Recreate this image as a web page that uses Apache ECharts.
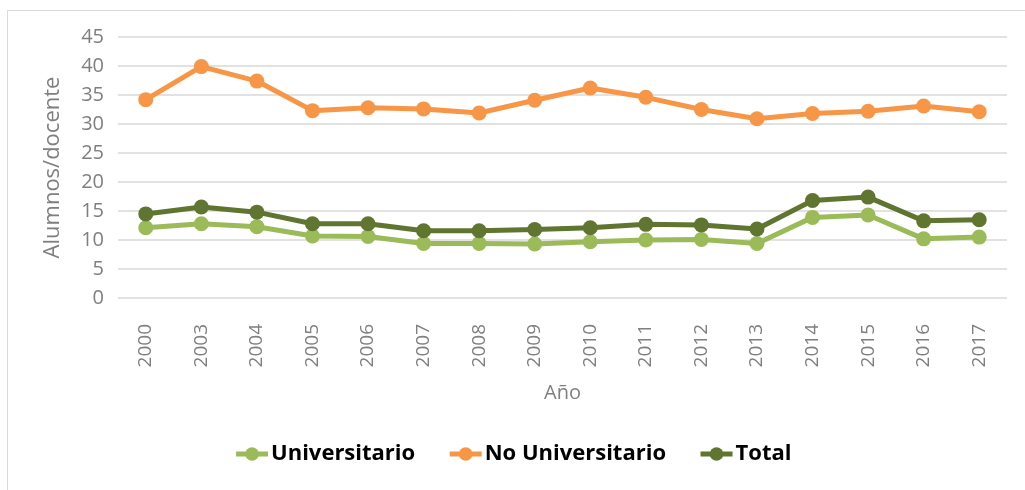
<!DOCTYPE html>
<html>
<head>
<meta charset="utf-8">
<script src="https://cdn.jsdelivr.net/npm/echarts@6/dist/echarts.min.js"></script>
<style>
  html, body { margin: 0; padding: 0; background: #fff; }
  #chart { width: 1025px; height: 490px; }
</style>
</head>
<body>
<div id="chart"></div>
<script>
var years = ['2000', '2003', '2004', '2005', '2006', '2007', '2008', '2009',
             '2010', '2011', '2012', '2013', '2014', '2015', '2016', '2017'];
var universitario = [12.1, 12.8, 12.3, 10.7, 10.6, 9.4, 9.4, 9.3, 9.7, 10.0, 10.1, 9.4, 13.9, 14.3, 10.2, 10.5];
var noUniversitario = [34.2, 39.9, 37.4, 32.3, 32.8, 32.6, 31.9, 34.1, 36.2, 34.6, 32.5, 30.9, 31.8, 32.2, 33.1, 32.1];
var total = [14.5, 15.7, 14.8, 12.8, 12.8, 11.6, 11.6, 11.8, 12.1, 12.7, 12.6, 11.9, 16.8, 17.4, 13.3, 13.5];

var green = '#9bbb59', orange = '#f79646', dark = '#5f7530';
var font = 'Open Sans';

function serie(name, data, color) {
    return {
        name: name,
        type: 'line',
        data: data,
        symbol: 'circle',
        symbolSize: 15,
        lineStyle: { width: 5, color: color },
        itemStyle: { color: color },
        animation: false
    };
}

var chart = echarts.init(document.getElementById('chart'));
chart.setOption({
    backgroundColor: '#fff',
    graphic: [{
        type: 'rect',
        shape: { x: 7.5, y: 10.5, width: 1040, height: 500 },
        style: { fill: 'none', stroke: '#d9d9d9', lineWidth: 1 }
    }],
    grid: { left: 118, right: 18, top: 37, bottom: 192 },
    legend: {
        bottom: 20,
        left: 'center',
        itemWidth: 32,
        itemHeight: 17,
        itemGap: 32,
        lineStyle: { width: 5 },
        textStyle: { fontFamily: font, fontWeight: 'bold', fontSize: 22, color: '#000', padding: [0, 0, 0, -2] },
        data: ['Universitario', 'No Universitario', 'Total']
    },
    xAxis: {
        type: 'category',
        data: years,
        name: 'Año',
        nameLocation: 'middle',
        nameGap: 85,
        nameTextStyle: { fontFamily: font, fontSize: 20, color: '#7f7f7f' },
        axisLine: { show: false },
        axisTick: { show: false },
        axisLabel: { rotate: 90, fontFamily: font, fontSize: 19, color: '#7f7f7f', margin: 26 }
    },
    yAxis: {
        type: 'value',
        min: 0,
        max: 45,
        interval: 5,
        name: 'Alumnos/docente',
        nameLocation: 'middle',
        nameGap: 54,
        nameTextStyle: { fontFamily: font, fontSize: 22, color: '#7f7f7f' },
        axisLabel: { fontFamily: font, fontSize: 20, color: '#7f7f7f', margin: 14 },
        splitLine: { lineStyle: { color: '#d9d9d9', width: 1.5 } }
    },
    series: [
        serie('Universitario', universitario, green),
        serie('No Universitario', noUniversitario, orange),
        serie('Total', total, dark)
    ]
});
</script>
</body>
</html>
